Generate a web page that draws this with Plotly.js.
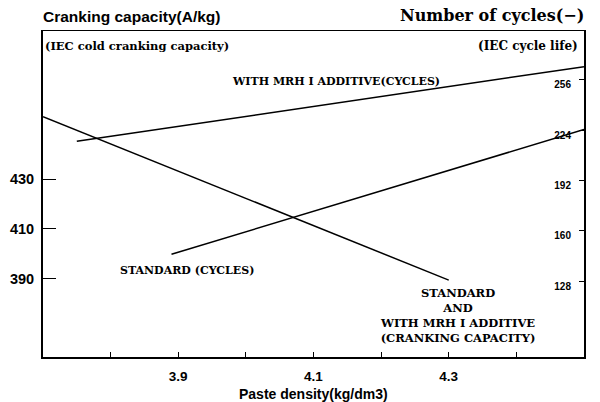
<!DOCTYPE html>
<html>
<head>
<meta charset="utf-8">
<script src="https://cdn.plot.ly/plotly-3.0.1.min.js"></script>
<style>html,body{margin:0;padding:0;background:#fff;}#chart{width:600px;height:402px;}</style>
</head>
<body>
<div id="chart"></div>
<script>
// Paste density (kg/dm3)
const crankX = [3.7, 4.3];
const crankY = [455, 389.5];          // cranking capacity (A/kg), both pastes
const mrhX = [3.75, 4.5];
const mrhY = [217, 264.5];            // cycles, with MRH I additive
const stdX = [3.89, 4.5];
const stdY = [145, 224.5];            // cycles, standard

const xTickVals = [3.8, 3.9, 4.0, 4.1, 4.2, 4.3, 4.4, 4.5];
const xTickText = ['', '3.9', '', '4.1', '', '4.3', '', '4.5'];
const leftTickVals = [390, 410, 430];
const rightTickVals = [128, 160, 192, 224, 256];

const SANS = 'Liberation Sans, Arial, sans-serif';
const SERIF = 'DejaVu Serif, Liberation Serif, serif';
const lineStyle = {color: '#000', width: 1.5};

const traces = [
  {x: crankX, y: crankY, type: 'scatter', mode: 'lines', line: lineStyle, yaxis: 'y', hoverinfo: 'skip'},
  {x: mrhX, y: mrhY, type: 'scatter', mode: 'lines', line: lineStyle, yaxis: 'y2', hoverinfo: 'skip'},
  {x: stdX, y: stdY, type: 'scatter', mode: 'lines', line: lineStyle, yaxis: 'y2', hoverinfo: 'skip'}
];

const labelFont = {family: SERIF, size: 11, color: '#000', weight: 'bold'};
const blockFont = {family: SERIF, size: 11.5, color: '#000', weight: 'bold'};

const layout = {
  width: 600, height: 402,
  margin: {l: 43, r: 16, t: 31, b: 44.5},
  paper_bgcolor: '#fff', plot_bgcolor: '#fff',
  showlegend: false,
  xaxis: {
    range: [3.7, 4.5], showgrid: false, zeroline: false,
    showline: true, linecolor: '#000', linewidth: 1.5, mirror: true,
    ticks: 'inside', ticklen: 5, tickwidth: 1, tickcolor: '#000',
    tickvals: xTickVals, ticktext: xTickText,
    ticklabelstandoff: 6,
    tickfont: {family: SANS, size: 13.5, color: '#000', weight: 'bold'}
  },
  yaxis: {
    range: [358.7, 489.3], showgrid: false, zeroline: false,
    showline: true, linecolor: '#000', linewidth: 2,
    ticks: 'inside', ticklen: 13, tickwidth: 1, tickcolor: '#000',
    tickvals: leftTickVals,
    ticklabelstandoff: 4,
    tickfont: {family: SANS, size: 14.5, color: '#000', weight: 'bold'}
  },
  yaxis2: {
    range: [79.6, 287.2], overlaying: 'y', side: 'right',
    showgrid: false, zeroline: false,
    showline: true, linecolor: '#000', linewidth: 1.5,
    ticks: 'inside', ticklen: 5, tickwidth: 1, tickcolor: '#000',
    tickvals: rightTickVals,
    ticklabelposition: 'inside',
    ticklabelstandoff: 7,
    ticklabelshift: 5,
    tickfont: {family: SANS, size: 10, color: '#000', weight: 'bold'}
  },
  annotations: [
    {xref: 'paper', yref: 'paper', x: 0, y: 1, xanchor: 'left', yanchor: 'bottom', yshift: 4, xshift: -2,
     text: 'Cranking capacity(A/kg)', showarrow: false,
     font: {family: SANS, size: 15.5, color: '#000', weight: 'bold'}},
    {xref: 'paper', yref: 'paper', x: 1, y: 1, xanchor: 'right', yanchor: 'bottom', yshift: 4, xshift: 2,
     text: 'Number of cycles(−)', showarrow: false,
     font: {family: SERIF, size: 16, color: '#000', weight: 'bold'}},
    {xref: 'paper', yref: 'paper', x: 0, y: 1, xanchor: 'left', yanchor: 'top', yshift: -6, xshift: 0,
     text: '(IEC cold cranking capacity)', showarrow: false,
     font: {family: SERIF, size: 11.5, color: '#000', weight: 'bold'}},
    {xref: 'paper', yref: 'paper', x: 1, y: 1, xanchor: 'right', yanchor: 'top', yshift: -6, xshift: -4,
     text: '(IEC cycle life)', showarrow: false,
     font: {family: SERIF, size: 12, color: '#000', weight: 'bold'}},
    {xref: 'paper', yref: 'paper', x: 0.5, y: 0, xanchor: 'center', yanchor: 'top', yshift: -26.5,
     text: 'Paste density(kg/dm3)', showarrow: false,
     font: {family: SANS, size: 14, color: '#000', weight: 'bold'}},
    {xref: 'x', yref: 'y', x: 4.1326, y: 468.9, xanchor: 'center', yanchor: 'middle',
     text: 'WITH MRH I ADDITIVE(CYCLES)', showarrow: false, font: labelFont},
    {xref: 'x', yref: 'y', x: 3.913, y: 393.3, xanchor: 'center', yanchor: 'middle',
     text: 'STANDARD (CYCLES)', showarrow: false, font: labelFont},
    {xref: 'x', yref: 'y', x: 4.313, y: 375.3, xanchor: 'center', yanchor: 'middle',
     text: 'STANDARD<br>AND<br>WITH MRH I ADDITIVE<br>(CRANKING CAPACITY)', showarrow: false,
     font: blockFont}
  ]
};

Plotly.newPlot('chart', traces, layout, {staticPlot: true, displayModeBar: false});
</script>
</body>
</html>
